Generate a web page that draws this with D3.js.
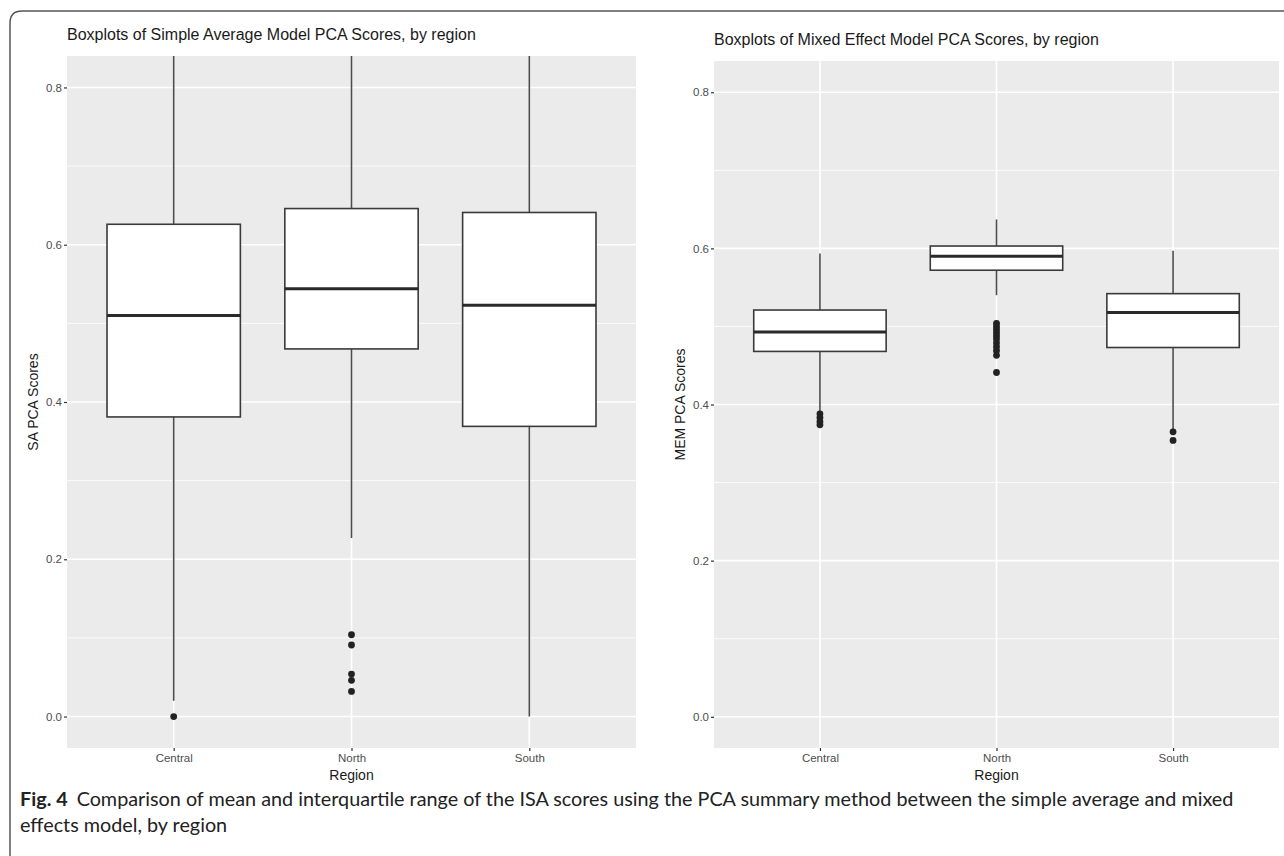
<!DOCTYPE html>
<html>
<head>
<meta charset="utf-8">
<script src="https://cdn.jsdelivr.net/npm/d3@7"></script>
<style>
  body { margin: 0; background: #fff; }
  svg { display: block; }
</style>
</head>
<body>
<div id="wrapper"></div>
<script>
// categories + box stats
const regions = ["Central", "North", "South"];
const yTicks = [0, 0.2, 0.4, 0.6, 0.8];
const yMinor = [0.1, 0.3, 0.5, 0.7];

// simple average model (upper whiskers run past the top of the panel)
const saLow = [0.02, 0.227, 0.0];
const saQ1 = [0.381, 0.4675, 0.369];
const saMed = [0.510, 0.544, 0.523];
const saQ3 = [0.626, 0.646, 0.641];
const saHigh = [0.84, 0.84, 0.84];
const saOutliers = [[0.0], [0.104, 0.091, 0.054, 0.046, 0.032], []];

// mixed effect model
const memLow = [0.391, 0.540, 0.368];
const memQ1 = [0.468, 0.572, 0.473];
const memMed = [0.493, 0.590, 0.518];
const memQ3 = [0.521, 0.603, 0.542];
const memHigh = [0.5935, 0.637, 0.597];
const memOutliers = [
    [0.388, 0.383, 0.378, 0.374],
    [0.504, 0.500, 0.496, 0.492, 0.488, 0.484, 0.479, 0.474, 0.469, 0.463, 0.441],
    [0.365, 0.354]
];

const width = 1284, height = 856;
const svg = d3.select("#wrapper").append("svg")
    .attr("width", width)
    .attr("height", height);

// rounded figure frame (only top + left edge visible)
svg.append("path")
    .attr("d", "M10,858 L10,23 Q10,11 22,11 L1286,11")
    .attr("fill", "none")
    .attr("stroke", "#555")
    .attr("stroke-width", 1.5);

function drawPanel(opts) {
    const { left, right, top, bottom, title, yTitle, low, q1, med, q3, high, outliers, id } = opts;

    const x = d3.scalePoint().domain(regions).range([left, right]).padding(0.6);
    const y = d3.scaleLinear().domain([-0.04, 0.84]).range([bottom, top]);

    const g = svg.append("g");

    g.append("clipPath").attr("id", id)
        .append("rect")
        .attr("x", left).attr("y", top)
        .attr("width", right - left).attr("height", bottom - top);

    g.append("rect")
        .attr("x", left).attr("y", top)
        .attr("width", right - left).attr("height", bottom - top)
        .attr("fill", "#ebebeb");

    const grid = g.append("g").attr("clip-path", `url(#${id})`);
    grid.selectAll(".minor").data(yMinor).join("line")
        .attr("x1", left).attr("x2", right)
        .attr("y1", d => y(d)).attr("y2", d => y(d))
        .attr("stroke", "#fff").attr("stroke-width", 0.8);
    grid.selectAll(".major").data(yTicks).join("line")
        .attr("x1", left).attr("x2", right)
        .attr("y1", d => y(d)).attr("y2", d => y(d))
        .attr("stroke", "#fff").attr("stroke-width", 1.6);
    grid.selectAll(".vmajor").data(regions).join("line")
        .attr("x1", d => x(d)).attr("x2", d => x(d))
        .attr("y1", top).attr("y2", bottom)
        .attr("stroke", "#fff").attr("stroke-width", 1.6);

    const bw = x.step() * 0.75;
    const marks = g.append("g").attr("clip-path", `url(#${id})`);

    regions.forEach((r, i) => {
        const cx = x(r);
        marks.append("line")
            .attr("x1", cx).attr("x2", cx)
            .attr("y1", y(high[i])).attr("y2", y(q3[i]))
            .attr("stroke", "#4d4d4d").attr("stroke-width", 1.6);
        marks.append("line")
            .attr("x1", cx).attr("x2", cx)
            .attr("y1", y(q1[i])).attr("y2", y(low[i]))
            .attr("stroke", "#4d4d4d").attr("stroke-width", 1.6);
        marks.append("rect")
            .attr("x", cx - bw / 2).attr("width", bw)
            .attr("y", y(q3[i])).attr("height", y(q1[i]) - y(q3[i]))
            .attr("fill", "#fff")
            .attr("stroke", "#3a3a3a").attr("stroke-width", 1.6);
        marks.append("line")
            .attr("x1", cx - bw / 2).attr("x2", cx + bw / 2)
            .attr("y1", y(med[i])).attr("y2", y(med[i]))
            .attr("stroke", "#2a2a2a").attr("stroke-width", 3);
        marks.selectAll(null).data(outliers[i]).join("circle")
            .attr("cx", cx).attr("cy", d => y(d))
            .attr("r", 3.4)
            .attr("fill", "#222");
    });

    // axes
    const yAxis = g.append("g")
        .attr("transform", `translate(${left},0)`)
        .call(d3.axisLeft(y).tickValues(yTicks).tickFormat(d3.format(".1f")).tickSize(3).tickPadding(2));
    yAxis.select(".domain").remove();
    yAxis.selectAll(".tick line").attr("stroke", "#333").attr("stroke-width", 1.2);
    yAxis.selectAll(".tick text")
        .attr("fill", "#4d4d4d")
        .style("font-family", "'Liberation Sans', Arial, sans-serif")
        .style("font-size", "11.5px");

    const xAxis = g.append("g")
        .attr("transform", `translate(0,${bottom})`)
        .call(d3.axisBottom(x).tickSize(3).tickPadding(3));
    xAxis.select(".domain").remove();
    xAxis.selectAll(".tick line").attr("stroke", "#333").attr("stroke-width", 1.2);
    xAxis.selectAll(".tick text")
        .attr("fill", "#4d4d4d")
        .style("font-family", "'Liberation Sans', Arial, sans-serif")
        .style("font-size", "11.5px");

    g.append("text")
        .attr("x", left)
        .attr("y", top - 16)
        .attr("fill", "#1a1a1a")
        .style("font-family", "'Liberation Sans', Arial, sans-serif")
        .style("font-size", "16px")
        .text(title);

    g.append("text")
        .attr("x", (left + right) / 2)
        .attr("y", bottom + 32)
        .attr("text-anchor", "middle")
        .attr("fill", "#1a1a1a")
        .style("font-family", "'Liberation Sans', Arial, sans-serif")
        .style("font-size", "14px")
        .text("Region");

    g.append("text")
        .attr("transform", `translate(${left - 29},${(top + bottom) / 2}) rotate(-90)`)
        .attr("text-anchor", "middle")
        .attr("fill", "#1a1a1a")
        .style("font-family", "'Liberation Sans', Arial, sans-serif")
        .style("font-size", "14px")
        .text(yTitle);
}

drawPanel({
    id: "clipSA", left: 67, right: 636, top: 56, bottom: 748,
    title: "Boxplots of Simple Average Model PCA Scores, by region",
    yTitle: "SA PCA Scores",
    low: saLow, q1: saQ1, med: saMed, q3: saQ3, high: saHigh, outliers: saOutliers
});

drawPanel({
    id: "clipMEM", left: 714, right: 1279, top: 61, bottom: 748,
    title: "Boxplots of Mixed Effect Model PCA Scores, by region",
    yTitle: "MEM PCA Scores",
    low: memLow, q1: memQ1, med: memMed, q3: memQ3, high: memHigh, outliers: memOutliers
});

// caption
const cap = svg.append("text")
    .attr("x", 20)
    .attr("y", 806)
    .attr("fill", "#222")
    .style("font-family", "Lato, 'Open Sans', sans-serif")
    .style("font-size", "19.8px");
cap.append("tspan").style("font-weight", "bold").text("Fig. 4");
cap.append("tspan").attr("dx", 9)
    .text("Comparison of mean and interquartile range of the ISA scores using the PCA summary method between the simple average and mixed");
svg.append("text")
    .attr("x", 20)
    .attr("y", 832)
    .attr("fill", "#222")
    .style("font-family", "Lato, 'Open Sans', sans-serif")
    .style("font-size", "19.8px")
    .text("effects model, by region");
</script>
</body>
</html>
